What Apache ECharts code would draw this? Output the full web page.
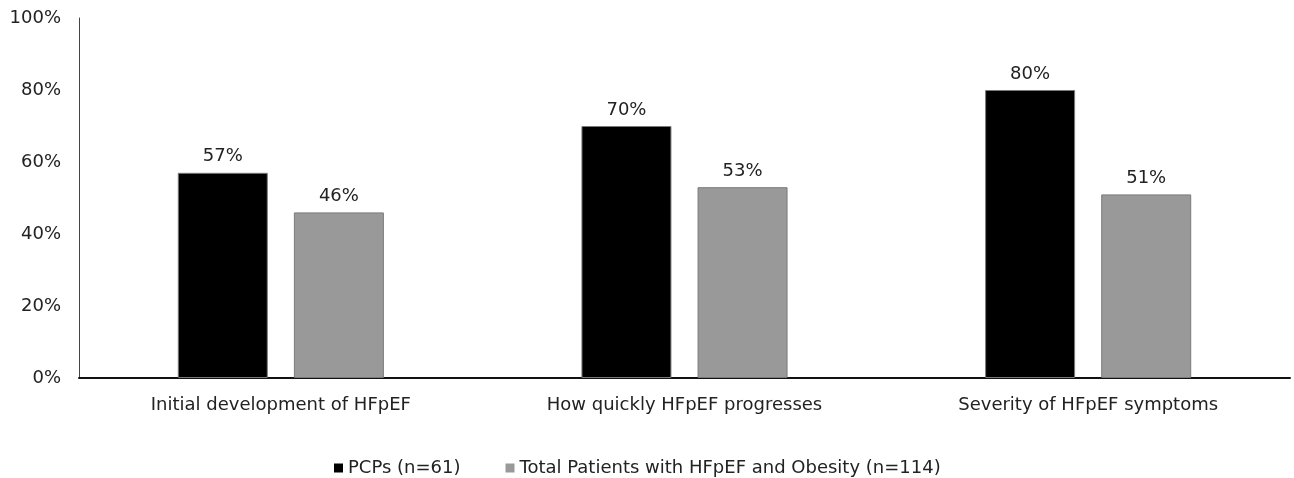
<!DOCTYPE html>
<html>
<head>
<meta charset="utf-8">
<script src="https://cdn.jsdelivr.net/npm/echarts@6/dist/echarts.min.js"></script>
<style>
  html, body { margin: 0; padding: 0; background: #fff; }
  #chart { width: 1294px; height: 478px; }
</style>
</head>
<body>
<div id="chart"></div>
<script>
// Survey categories and responses (percent)
const categories = ['Initial development of HFpEF', 'How quickly HFpEF progresses', 'Severity of HFpEF symptoms'];
const pcpValues = [57, 70, 80];
const patientValues = [46, 53, 51];
const seriesNames = ['PCPs (n=61)', 'Total Patients with HFpEF and Obesity (n=114)'];
const yTicks = [0, 20, 40, 60, 80, 100];

const font = 'DejaVu Sans, Verdana, sans-serif';
const fs = 18;
const chart = echarts.init(document.getElementById('chart'), null, { renderer: 'canvas' });

const labelStyle = {
  show: true,
  position: 'top',
  distance: 7,
  formatter: p => p.value + '%',
  fontFamily: font,
  fontSize: fs,
  color: '#222'
};

chart.setOption({
  animation: false,
  backgroundColor: '#fff',
  textStyle: { fontFamily: font },
  grid: { left: 79, right: 4, top: 18, bottom: 100, containLabel: false },
  legend: {
    top: 454,
    left: 329,
    itemWidth: 9,
    itemHeight: 9,
    itemGap: 45,
    icon: 'rect',
    itemStyle: { borderWidth: 0 },
    textStyle: { fontFamily: font, fontSize: fs, color: '#222', padding: [0, 0, 0, 0] },
    data: seriesNames
  },
  xAxis: {
    type: 'category',
    data: categories,
    axisLine: { show: true, lineStyle: { color: '#111', width: 2 } },
    axisTick: { show: false },
    axisLabel: { fontFamily: font, fontSize: fs, color: '#222', margin: 18 }
  },
  yAxis: {
    type: 'value',
    min: yTicks[0],
    max: yTicks[yTicks.length - 1],
    interval: 20,
    axisLine: { show: true, lineStyle: { color: '#444', width: 1 } },
    axisTick: { show: false },
    splitLine: { show: false },
    axisLabel: { fontFamily: font, fontSize: fs, color: '#222', margin: 18, formatter: v => v + '%' }
  },
  series: [
    {
      name: seriesNames[0],
      type: 'bar',
      data: pcpValues,
      barWidth: 90,
      barGap: '29%',
      itemStyle: { color: '#000', borderColor: '#7a7a7a', borderWidth: 1 },
      label: labelStyle
    },
    {
      name: seriesNames[1],
      type: 'bar',
      data: patientValues,
      barWidth: 90,
      itemStyle: { color: '#999999', borderColor: '#7a7a7a', borderWidth: 1 },
      label: labelStyle
    }
  ]
});
</script>
</body>
</html>
